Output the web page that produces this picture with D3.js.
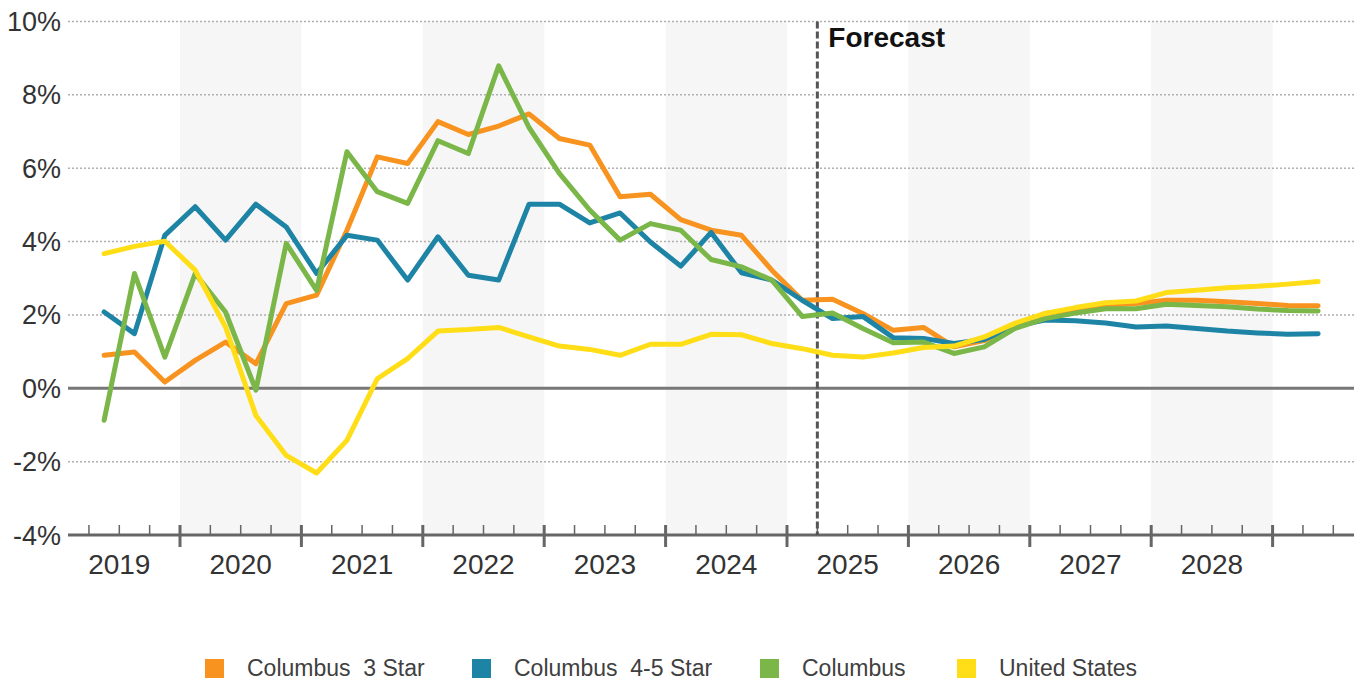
<!DOCTYPE html>
<html>
<head>
<meta charset="utf-8">
<script src="https://cdn.jsdelivr.net/npm/d3@7"></script>
<style>
  body { margin: 0; background: #fff; }
  svg { font-family: "Liberation Sans", Arial, sans-serif; }
</style>
</head>
<body>
<div id="chart-area"></div>
<script>
// quarterly data, 2019Q2 .. 2029Q2
var quarters = ["2019Q2","2019Q3","2019Q4","2020Q1","2020Q2","2020Q3","2020Q4","2021Q1","2021Q2","2021Q3","2021Q4",
  "2022Q1","2022Q2","2022Q3","2022Q4","2023Q1","2023Q2","2023Q3","2023Q4","2024Q1","2024Q2","2024Q3","2024Q4",
  "2025Q1","2025Q2","2025Q3","2025Q4","2026Q1","2026Q2","2026Q3","2026Q4","2027Q1","2027Q2","2027Q3","2027Q4",
  "2028Q1","2028Q2","2028Q3","2028Q4","2029Q1","2029Q2"];

var star3 = [0.90, 0.99, 0.17, 0.76, 1.26, 0.67, 2.31, 2.54, 4.31, 6.31, 6.13, 7.27, 6.92, 7.15, 7.48, 6.81, 6.63, 5.22, 5.29, 4.60,
  4.31, 4.17, 3.22, 2.40, 2.43, 2.04, 1.58, 1.66, 1.13, 1.30, 1.67, 2.04, 2.15, 2.26, 2.31, 2.40, 2.40, 2.36, 2.31, 2.26, 2.25];
var star45 = [2.08, 1.49, 4.17, 4.95, 4.04, 5.02, 4.40, 3.13, 4.17, 4.04, 2.95, 4.13, 3.08, 2.95, 5.02, 5.02, 4.51, 4.78, 3.99, 3.33,
  4.25, 3.15, 2.95, 2.40, 1.90, 1.96, 1.38, 1.36, 1.22, 1.33, 1.69, 1.86, 1.84, 1.78, 1.67, 1.70, 1.63, 1.56, 1.51, 1.47, 1.49];
var columbus = [-0.87, 3.13, 0.85, 3.13, 2.08, -0.05, 3.95, 2.67, 6.45, 5.36, 5.04, 6.75, 6.40, 8.79, 7.11, 5.86, 4.86, 4.04, 4.49, 4.31,
  3.51, 3.31, 2.95, 1.96, 2.05, 1.63, 1.24, 1.26, 0.95, 1.13, 1.63, 1.90, 2.05, 2.17, 2.17, 2.29, 2.26, 2.22, 2.16, 2.12, 2.11];
var usa = [3.67, 3.87, 4.01, 3.22, 1.67, -0.74, -1.83, -2.31, -1.42, 0.26, 0.81, 1.56, 1.60, 1.66, 1.40, 1.15, 1.06, 0.90, 1.20, 1.20,
  1.47, 1.46, 1.22, 1.08, 0.90, 0.85, 0.96, 1.11, 1.15, 1.40, 1.77, 2.04, 2.20, 2.33, 2.38, 2.61, 2.67, 2.74, 2.78, 2.84, 2.91];

var seriesNames = ["Columbus  3 Star", "Columbus  4-5 Star", "Columbus", "United States"];
var seriesColors = ["#F7931E", "#1D84A6", "#7AB648", "#FFDD17"];
var yTicks = [-4, -2, 0, 2, 4, 6, 8, 10];
var years = [2019, 2020, 2021, 2022, 2023, 2024, 2025, 2026, 2027, 2028];
var shadedYears = [2020, 2022, 2024, 2026, 2028];
var forecastStart = "2025Q2";

var W = 1364, H = 684;
var svg = d3.select("#chart-area").append("svg")
  .attr("width", W)
  .attr("height", H);

function qpos(q) { // middle of the quarter, in fractional years
  return +q.slice(0, 4) + (+q.slice(5) - 0.5) / 4;
}
function qstart(q) {
  return +q.slice(0, 4) + (+q.slice(5) - 1) / 4;
}

var x = d3.scaleLinear().domain([2019, 2030]).range([58.6, 58.6 + 11 * 121.4]);
var y = d3.scaleLinear().domain([-4, 10]).range([535, 21.5]);
var x0 = 68, x1 = 1354;

// shaded years
svg.selectAll("rect.band").data(shadedYears).enter()
  .append("rect")
  .attr("class", "band")
  .attr("x", d => x(d))
  .attr("width", d => x(d + 1) - x(d))
  .attr("y", y(10))
  .attr("height", y(-4) - y(10))
  .attr("fill", "#f6f6f6");

// grid
svg.selectAll("line.grid").data(yTicks.filter(d => d != 0 && d != -4)).enter()
  .append("line")
  .attr("x1", x0).attr("x2", x1)
  .attr("y1", d => y(d)).attr("y2", d => y(d))
  .attr("stroke", "#b0b0b0")
  .attr("stroke-width", 1.5)
  .attr("stroke-dasharray", "2,2");

svg.selectAll("text.ylab").data(yTicks).enter()
  .append("text")
  .attr("x", 61)
  .attr("y", d => y(d) + 9.5)
  .attr("text-anchor", "end")
  .attr("font-size", 27)
  .attr("fill", "#333")
  .text(d => d + "%");

// zero line
svg.append("line")
  .attr("x1", x0).attr("x2", x1)
  .attr("y1", y(0)).attr("y2", y(0))
  .attr("stroke", "#777").attr("stroke-width", 3);

// x axis
var axisY = y(-4);
svg.append("line")
  .attr("x1", x0).attr("x2", x1)
  .attr("y1", axisY).attr("y2", axisY)
  .attr("stroke", "#666").attr("stroke-width", 3);

var qTicks = d3.range(2019.25, 2030, 0.25).filter(t => x(t) <= x1);
svg.selectAll("line.tick").data(qTicks).enter()
  .append("line")
  .attr("x1", d => x(d)).attr("x2", d => x(d))
  .attr("y1", axisY - 10)
  .attr("y2", d => (d % 1 == 0) ? axisY + 12 : axisY)
  .attr("stroke", "#666")
  .attr("stroke-width", d => (d % 1 == 0) ? 3 : 1.5);

svg.selectAll("text.year").data(years).enter()
  .append("text")
  .attr("x", d => x(d + 0.5))
  .attr("y", 574)
  .attr("text-anchor", "middle")
  .attr("font-size", 28)
  .attr("fill", "#333")
  .text(d => d);

// forecast marker
var fx = x(qstart(forecastStart));
svg.append("line")
  .attr("x1", fx).attr("x2", fx)
  .attr("y1", y(10)).attr("y2", axisY)
  .attr("stroke", "#555")
  .attr("stroke-width", 3)
  .attr("stroke-dasharray", "7,3");
svg.append("text")
  .attr("x", fx + 11)
  .attr("y", 47)
  .attr("font-size", 28)
  .attr("font-weight", "bold")
  .attr("fill", "#111")
  .text("Forecast");

// lines
var allSeries = [star3, star45, columbus, usa];
var line = d3.line()
  .x((d, i) => x(qpos(quarters[i])))
  .y(d => y(d));

svg.selectAll("path.series").data(allSeries).enter()
  .append("path")
  .attr("class", "series")
  .attr("d", d => line(d))
  .attr("fill", "none")
  .attr("stroke", (d, i) => seriesColors[i])
  .attr("stroke-width", 5)
  .attr("stroke-linejoin", "round")
  .attr("stroke-linecap", "round");

// legend
var legendX = [205, 472, 760, 957];
var legend = svg.selectAll("g.legend").data(seriesNames).enter()
  .append("g")
  .attr("transform", (d, i) => "translate(" + legendX[i] + ",659)");
legend.append("rect")
  .attr("width", 19).attr("height", 19)
  .attr("fill", (d, i) => seriesColors[i]);
legend.append("text")
  .attr("x", 42)
  .attr("y", 17)
  .attr("font-size", 23)
  .attr("fill", "#404040")
  .style("white-space", "pre")
  .text(d => d);
</script>
</body>
</html>
